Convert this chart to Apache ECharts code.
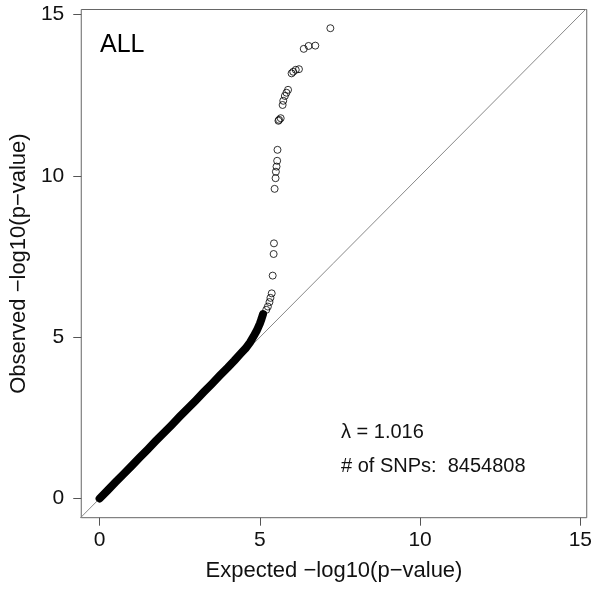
<!DOCTYPE html>
<html>
<head>
<meta charset="utf-8">
<script src="https://cdn.jsdelivr.net/npm/echarts@6/dist/echarts.min.js"></script>
<style>
html,body{margin:0;padding:0;background:#fff;}
#chart{width:595px;height:589px;}
</style>
</head>
<body>
<div id="chart"></div>
<script>
// Dense bulk of the QQ points (reads as a solid band)
var bandX = [0, 0.25, 0.5, 0.75, 1.0, 1.25, 1.5, 1.75, 2.0, 2.25, 2.5, 2.75, 3.0, 3.25, 3.5, 3.75, 4.0, 4.2, 4.4, 4.55, 4.7, 4.8, 4.9, 5.0, 5.05, 5.1];
var bandY = [0, 0.25, 0.51, 0.76, 1.01, 1.27, 1.52, 1.78, 2.03, 2.28, 2.54, 2.79, 3.04, 3.30, 3.55, 3.81, 4.06, 4.27, 4.49, 4.65, 4.85, 5.02, 5.20, 5.42, 5.56, 5.72];
// Sparse tail points (hollow circles)
var tailX = [5.20, 5.25, 5.30, 5.33, 5.37, 5.40, 5.43, 5.44, 5.46, 5.49, 5.50, 5.52, 5.54, 5.55, 5.58, 5.60, 5.65, 5.71, 5.73, 5.78, 5.83, 5.88, 5.99, 6.04, 6.12, 6.22, 6.37, 6.52, 6.73, 7.20];
var tailY = [5.85, 5.95, 6.09, 6.22, 6.36, 6.91, 7.58, 7.91, 9.60, 9.93, 10.13, 10.29, 10.47, 10.81, 11.71, 11.74, 11.79, 12.20, 12.33, 12.48, 12.58, 12.67, 13.18, 13.23, 13.29, 13.31, 13.94, 14.03, 14.04, 14.58];
// Reference line y = x
var refX = [-1, 16];
var refY = [-1, 16];
var xTicks = [0, 5, 10, 15];
var yTicks = [0, 5, 10, 15];
var xTitle = 'Expected \u2212log10(p\u2212value)';
var yTitle = 'Observed \u2212log10(p\u2212value)';
var panelLabel = 'ALL';
var lambdaText = '\u03bb = 1.016';
var snpText = '# of SNPs:  8454808';

function zip(a, b) { return a.map(function (v, i) { return [v, b[i]]; }); }

var chart = echarts.init(document.getElementById('chart'), null, {renderer: 'canvas'});
var font = 'Liberation Sans, Arial, Helvetica, sans-serif';
chart.setOption({
  animation: false,
  backgroundColor: '#fff',
  grid: {left: 80, right: 6, top: 9.5, bottom: 71.3, show: true, borderColor: '#666', borderWidth: 1, backgroundColor: 'transparent'},
  xAxis: {
    type: 'value', min: -0.573, max: 15.20, position: 'bottom',
    axisLine: {show: false, onZero: false},
    splitLine: {show: false},
    axisTick: {show: true, inside: false, length: 8, customValues: xTicks, lineStyle: {color: '#555', width: 1}},
    axisLabel: {customValues: xTicks, fontSize: 21, color: '#111', margin: 12, fontFamily: font},
    name: xTitle, nameLocation: 'middle', nameGap: 42,
    nameTextStyle: {fontSize: 22, color: '#111', fontFamily: font}
  },
  yAxis: {
    type: 'value', min: -0.595, max: 15.16, position: 'left',
    axisLine: {show: false, onZero: false},
    splitLine: {show: false},
    axisTick: {show: true, inside: false, length: 8, customValues: yTicks, lineStyle: {color: '#555', width: 1}},
    axisLabel: {customValues: yTicks, fontSize: 21, color: '#111', margin: 17, fontFamily: font},
    name: yTitle, nameLocation: 'middle', nameGap: 43, nameRotate: 90,
    nameTextStyle: {fontSize: 22, color: '#111', fontFamily: font}
  },
  series: [
    {type: 'line', data: zip(refX, refY), clip: true, symbol: 'none', lineStyle: {color: '#888', width: 1}, z: 1},
    {type: 'line', data: zip(bandX, bandY), symbol: 'none', lineStyle: {color: '#000', width: 8, cap: 'round', join: 'round'}, z: 2},
    {type: 'scatter', data: zip(tailX, tailY), symbol: 'circle', symbolSize: 7,
     itemStyle: {color: 'rgba(0,0,0,0)', borderColor: '#000', borderWidth: 1}, z: 3}
  ],
  graphic: [
    {type: 'text', left: 100, top: 33, style: {text: panelLabel, fontSize: 25, fill: '#000', font: '25px ' + font}},
    {type: 'text', left: 341, top: 422, style: {text: lambdaText, fontSize: 20, fill: '#111', font: '20px ' + font}},
    {type: 'text', left: 341, top: 456, style: {text: snpText, fontSize: 20, fill: '#111', font: '20px ' + font}}
  ]
});
</script>
</body>
</html>
